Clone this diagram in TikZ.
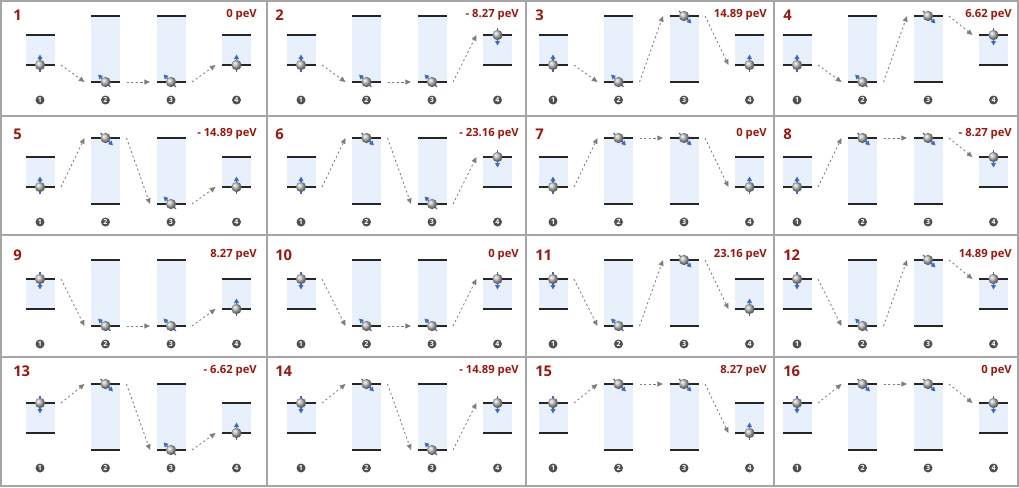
\documentclass[tikz,border=0pt]{standalone}
\usepackage{fontspec}
\setmainfont{Open Sans}
\usetikzlibrary{arrows.meta}
\definecolor{numred}{RGB}{150,25,15}
\definecolor{gapblue}{RGB}{232,241,251}
\definecolor{spinblue}{RGB}{60,105,195}
\definecolor{gridgray}{RGB}{165,165,165}
\definecolor{hopgray}{RGB}{125,125,125}
\definecolor{tagdark}{RGB}{80,80,80}
\tikzset{
  gap/.style={fill=gapblue, draw=none},
  level/.style={line width=0.9pt, color=black!85},
  frame/.style={line width=1.4pt, color=gridgray},
  hop/.style={-{Triangle[length=4pt, width=3.5pt]}, line width=0.6pt,
    color=hopgray, dash pattern=on 1.5pt off 1.8pt}
}

\begin{document}
\begin{tikzpicture}[x=0.025cm, y=-0.025cm]
  \tikzset{
    ball/.style={circle, inner sep=0pt, minimum size=7.3pt, shading=ball,
      ball color=gray!55},
    spin/.style={-{Triangle[length=3.2pt, width=3.4pt]}, line width=0.9pt,
      color=spinblue},
    tag/.style={circle, fill=tagdark, text=white, inner sep=0pt,
      minimum size=6.4pt, font=\fontsize{5}{5}\selectfont\bfseries},
    pnum/.style={anchor=west, inner sep=0pt, text=numred,
      font=\fontsize{10.5}{12}\selectfont\bfseries},
    energy/.style={anchor=east, inner sep=0pt, text=numred,
      font=\fontsize{8}{10}\selectfont\bfseries}
  }
  \useasboundingbox (0,0) rectangle (1019,487);

  % Frame and panel grid
  \draw[frame] (1,1) rectangle (1018,486);
  \foreach \gx in {267,526,774} \draw[frame] (\gx,1) -- (\gx,486);
  \foreach \gy in {116,235,357} \draw[frame] (1,\gy) -- (1018,\gy);

  % Panels: number / spin states of sites 1-4 / energy
  \foreach \n/\sa/\sb/\sc/\sd/\en in {
      1/0/0/0/0/{0 peV},       2/0/0/0/1/{- 8.27 peV},
      3/0/0/1/0/{14.89 peV},   4/0/0/1/1/{6.62 peV},
      5/0/1/0/0/{- 14.89 peV}, 6/0/1/0/1/{- 23.16 peV},
      7/0/1/1/0/{0 peV},       8/0/1/1/1/{- 8.27 peV},
      9/1/0/0/0/{8.27 peV},    10/1/0/0/1/{0 peV},
      11/1/0/1/0/{23.16 peV},  12/1/0/1/1/{14.89 peV},
      13/1/1/0/0/{- 6.62 peV}, 14/1/1/0/1/{- 14.89 peV},
      15/1/1/1/0/{8.27 peV},   16/1/1/1/1/{0 peV}} {
    \pgfmathtruncatemacro\pc{mod(\n-1,4)}
    \pgfmathtruncatemacro\pr{div(\n-1,4)}
    \pgfmathsetmacro\colx{{40,301,553,797}[\pc]}
    \pgfmathsetmacro\rowy{{0,122,244,368}[\pr]}
    \pgfmathsetmacro\lblx{{13,275,535,783}[\pc]}
    \pgfmathsetmacro\enx{{257,519,767,1012}[\pc]}
    \pgfmathsetmacro\lbly{{15,134,255,371}[\pr]}

    % Panel number and energy
    \node[pnum] (p\n) at (\lblx,\lbly) {\n};
    \node[energy] (e\n) at (\enx,\lbly) {\en};

    % Sites with their two levels and the spin
    \foreach \j/\st in {1/\sa,2/\sb,3/\sc,4/\sd} {
      \pgfmathsetmacro\xx{\colx+(\j-1)*65.5}
      \pgfmathtruncatemacro\wide{(\j==2)||(\j==3)}
      \pgfmathsetmacro\ytop{\rowy+(\wide==1 ? 16 : 35)}
      \pgfmathsetmacro\ybot{\rowy+(\wide==1 ? 82 : 65)}
      \pgfmathsetmacro\ys{\st==1 ? \ytop : \ybot}
      \pgfmathsetmacro\sg{\st==1 ? 1 : -1}
      \pgfmathsetmacro\ux{\wide==1 ? 0.71*\sg : 0}
      \pgfmathsetmacro\uy{\wide==1 ? 0.71*\sg : \sg}
      \pgfmathsetmacro\xa{\xx-7*\ux}
      \pgfmathsetmacro\ya{\ys-7*\uy}
      \pgfmathsetmacro\xb{\xx+10.5*\ux}
      \pgfmathsetmacro\yb{\ys+10.5*\uy}
      \fill[gap] (\xx-14.5,\ytop) rectangle (\xx+14.5,\ybot);
      \draw[level] (\xx-14.5,\ytop) -- (\xx+14.5,\ytop);
      \draw[level] (\xx-14.5,\ybot) -- (\xx+14.5,\ybot);
      \draw[spin] (\xa,\ya) -- (\xb,\yb);
      \node[ball] (s\n-\j) at (\xx,\ys) {};
      \coordinate (o\n-\j) at (\xx+21,\ys);
      \coordinate (i\n-\j) at (\xx-21,\ys);
      \node[tag] (t\n-\j) at (\xx,\rowy+100) {\j};
    }

    % Hops from site to site
    \foreach \j [count=\k from 2] in {1,2,3}
      \draw[hop] (o\n-\j) -- (i\n-\k);
  }
\end{tikzpicture}
\end{document}
